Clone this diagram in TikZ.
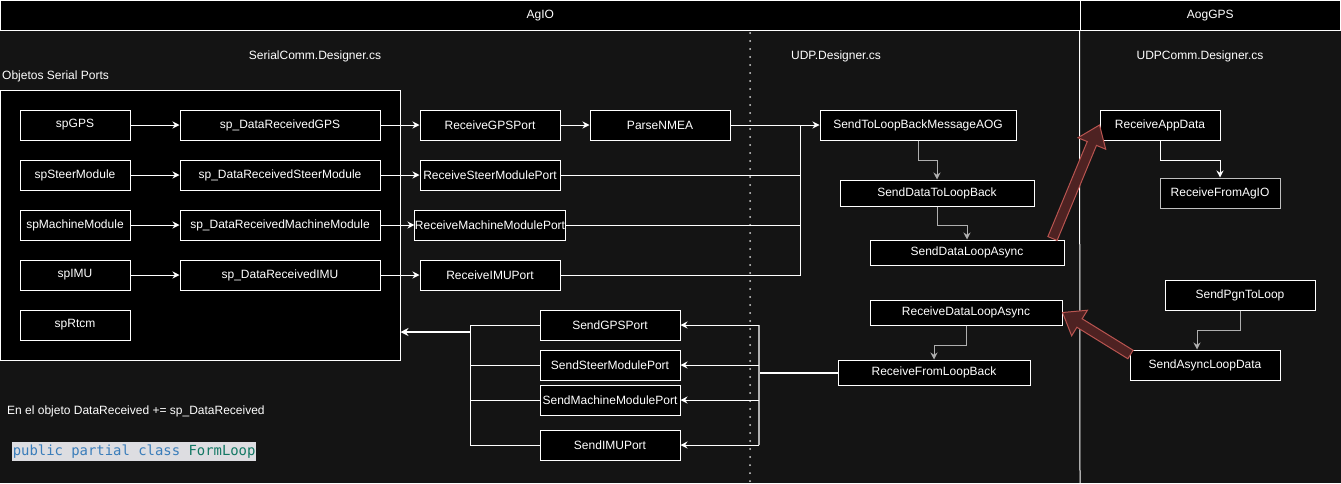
\documentclass[tikz,border=0pt]{standalone}
\usepackage{fontspec}
\setmainfont{Liberation Sans}
\newfontfamily\codefont{DejaVu Sans Mono}
\usetikzlibrary{arrows.meta,calc}
\definecolor{bgc}{RGB}{20,20,20}
\definecolor{flexfill}{RGB}{78,34,34}
\definecolor{flexdraw}{RGB}{184,84,80}
\definecolor{codebg}{RGB}{221,221,225}
\definecolor{codeblue}{RGB}{58,125,186}
\definecolor{codeteal}{RGB}{18,120,100}
\definecolor{dimline}{RGB}{175,175,175}
\definecolor{dotc}{RGB}{215,215,215}
\tikzset{
  txt/.style={font=\fontsize{12}{14}\selectfont, text=white},
  box/.style={txt, draw=white, fill=black, line width=1pt, inner sep=0pt},
  lbl/.style={txt, inner sep=0pt},
  conn/.style={draw=white, line width=1pt},
  arr/.style={conn, -{Stealth[length=7pt,width=7pt]}},
  dimarr/.style={draw=dimline, line width=1pt, -{Stealth[length=7pt,width=7pt]}},
  flex/.style={fill=flexfill, draw=flexdraw, line width=1pt, line join=miter},
}
\newcommand\myflex[3]{%
  \coordinate (#3) at ($(#2)!20pt!(#1)$);
  \filldraw[flex] ($(#1)!5pt!90:(#2)$) -- ($(#3)!5pt!90:(#2)$) -- ($(#3)!15pt!90:(#2)$)
    -- (#2) -- ($(#3)!15pt!-90:(#2)$) -- ($(#3)!5pt!-90:(#2)$) -- ($(#1)!5pt!-90:(#2)$) -- cycle;}
\begin{document}
\begin{tikzpicture}[x=1pt,y=-1pt]
\useasboundingbox (0,0) rectangle (1341,483);
\fill[bgc] (0,0) rectangle (1341,483);

% header
\node[box, minimum width=1079.5, minimum height=29.5] (agio) at (540.25,15.25) {AgIO};
\node[box, minimum width=260.5, minimum height=29.5] (aoggps) at (1210.25,15.25) {AogGPS};
\coordinate (vbot) at (1080,483);
\draw[conn] (aoggps.south west) -- (vbot);
\coordinate (dtop) at (750,33);
\coordinate (dbot) at (750,483);
\draw[dotc, line width=2pt, line cap=round, dash pattern=on 0pt off 8pt] (dtop) -- (dbot);

% section labels
\node[lbl] (serialcs) at (315,56) {SerialComm.Designer.cs};
\node[lbl] (udpcs) at (836,56) {UDP.Designer.cs};
\node[lbl] (udpcommcs) at (1200,56) {UDPComm.Designer.cs};
\node[lbl, anchor=west] (objetos) at (2,76) {Objetos Serial Ports};

% serial ports container
\node[box, minimum width=399.5, minimum height=270] (serial) at (200.25,225) {};

% serial port objects
\node[box, minimum width=110, minimum height=30] (spgps) at (75,125) {spGPS};
\node[box, minimum width=110, minimum height=30] (spsteer) at (75,175) {spSteerModule};
\node[box, minimum width=110, minimum height=30] (spmach) at (75,225) {spMachineModule};
\node[box, minimum width=110, minimum height=30] (spimu) at (75,275) {spIMU};
\node[box, minimum width=110, minimum height=30] (sprtcm) at (75,325) {spRtcm};

\node[box, minimum width=200, minimum height=30] (drgps) at (280,125) {sp\_DataReceivedGPS};
\node[box, minimum width=200, minimum height=30] (drsteer) at (280,175) {sp\_DataReceivedSteerModule};
\node[box, minimum width=200, minimum height=30] (drmach) at (280,225) {sp\_DataReceivedMachineModule};
\node[box, minimum width=200, minimum height=30] (drimu) at (280,275) {sp\_DataReceivedIMU};

\node[box, minimum width=140, minimum height=30] (rgps) at (490,125) {ReceiveGPSPort};
\node[box, minimum width=140, minimum height=30] (rsteer) at (490,175) {ReceiveSteerModulePort};
\node[box, minimum width=140, minimum height=30] (rmach) at (490,225) {ReceiveMachineModulePort};
\node[box, minimum width=140, minimum height=30] (rimu) at (490,275) {ReceiveIMUPort};
\node[box, minimum width=140, minimum height=30] (parse) at (660,125) {ParseNMEA};

% UDP
\node[box, minimum width=196, minimum height=30] (stlb) at (918,125) {SendToLoopBackMessageAOG};
\node[box, minimum width=194, minimum height=26] (sdtlb) at (937,193) {SendDataToLoopBack};
\node[box, minimum width=194, minimum height=25] (sdla) at (967,252.5) {SendDataLoopAsync};
\node[box, minimum width=192, minimum height=25] (rdla) at (966,312.5) {ReceiveDataLoopAsync};
\node[box, minimum width=192, minimum height=25] (rflb) at (934,372.5) {ReceiveFromLoopBack};

% AogGPS
\node[box, minimum width=120, minimum height=30] (rad) at (1160,125) {ReceiveAppData};
\node[box, draw=dimline!80!white, minimum width=120, minimum height=30] (rfag) at (1220,193) {ReceiveFromAgIO};
\node[box, minimum width=150, minimum height=30] (spgn) at (1240,295) {SendPgnToLoop};
\node[box, minimum width=150, minimum height=30] (sald) at (1205,365) {SendAsyncLoopData};

% send ports
\node[box, minimum width=140, minimum height=30] (sgps) at (610,325) {SendGPSPort};
\node[box, minimum width=140, minimum height=30] (ssteer) at (610,365) {SendSteerModulePort};
\node[box, minimum width=140, minimum height=30] (smach) at (610,400) {SendMachineModulePort};
\node[box, minimum width=140, minimum height=30] (simu) at (610,445) {SendIMUPort};

% notes
\node[lbl, anchor=west] (note) at (7,411) {En el objeto DataReceived += sp\_DataReceived};
\node[anchor=west, fill=codebg, inner xsep=0.6pt, inner ysep=0pt, minimum height=19pt] (code) at (12,451.5)
  {\codefont\fontsize{13.9}{16}\selectfont\color{codeblue}public partial class \color{codeteal}FormLoop};

% connectors: serial objects
\draw[arr] (spgps) -- (drgps);
\draw[arr] (spsteer) -- (drsteer);
\draw[arr] (spmach) -- (drmach);
\draw[arr] (spimu) -- (drimu);
\draw[arr] (drgps) -- (rgps);
\draw[arr] (drsteer) -- (rsteer);
\draw[arr] (drmach) -- (rmach);
\draw[arr] (drimu) -- (rimu);
\draw[arr] (rgps) -- (parse);

\coordinate (tbus) at (800,125);
\draw[arr] (parse) -- (stlb);
\draw[conn] (rsteer.east) -| (tbus);
\draw[conn] (rmach.east) -| (tbus);
\draw[conn] (rimu.east) -| (tbus);

% UDP internal
\draw[dimarr] (stlb.south) -- ++(0,20) -| (sdtlb.north);
\draw[dimarr] (sdtlb.south) -- ++(0,19) -| (sdla.north);
\draw[dimarr] (rdla.south) -- ++(0,20) -| (rflb.north);
\draw[arr] (rad.south) -- ++(0,20) -| (rfag.north);
\coordinate (saldin) at ($(sald.north)+(-8,0)$);
\draw[dimarr] (spgn.south) -- ++(0,20) -| (saldin);

% send buses
\coordinate (rbus) at (759,372.5);
\draw[conn, line width=2pt] (rflb.west) -- (rbus);
\draw[draw=dimline, line width=1.5pt] (rbus |- sgps.east) -- (rbus |- simu.east);
\draw[arr] (rbus |- sgps.east) -- (sgps.east);
\draw[arr] (rbus |- ssteer.east) -- (ssteer.east);
\draw[arr] (rbus |- smach.east) -- (smach.east);
\draw[arr] (rbus |- simu.east) -- (simu.east);

\coordinate (lbus) at (470,332);
\draw[conn] (sgps.west) -- (sgps.west -| lbus) -- (simu.west -| lbus) -- (simu.west);
\draw[conn] (ssteer.west) -- (ssteer.west -| lbus);
\draw[conn] (smach.west) -- (smach.west -| lbus);
\draw[conn, -{Stealth[length=8pt,width=8pt]}, line width=1.5pt] (lbus) -- (serial.east |- lbus);

% big flex arrows
\coordinate (fa1) at ($(sdla.north east)+(-12,-1)$);
\coordinate (fb1) at (rad.west);
\myflex{fa1}{fb1}{fh1}
\coordinate (fa2) at ($(sald.north west)+(1,5)$);
\coordinate (fb2) at (rdla.east);
\myflex{fa2}{fb2}{fh2}
\end{tikzpicture}
\end{document}
